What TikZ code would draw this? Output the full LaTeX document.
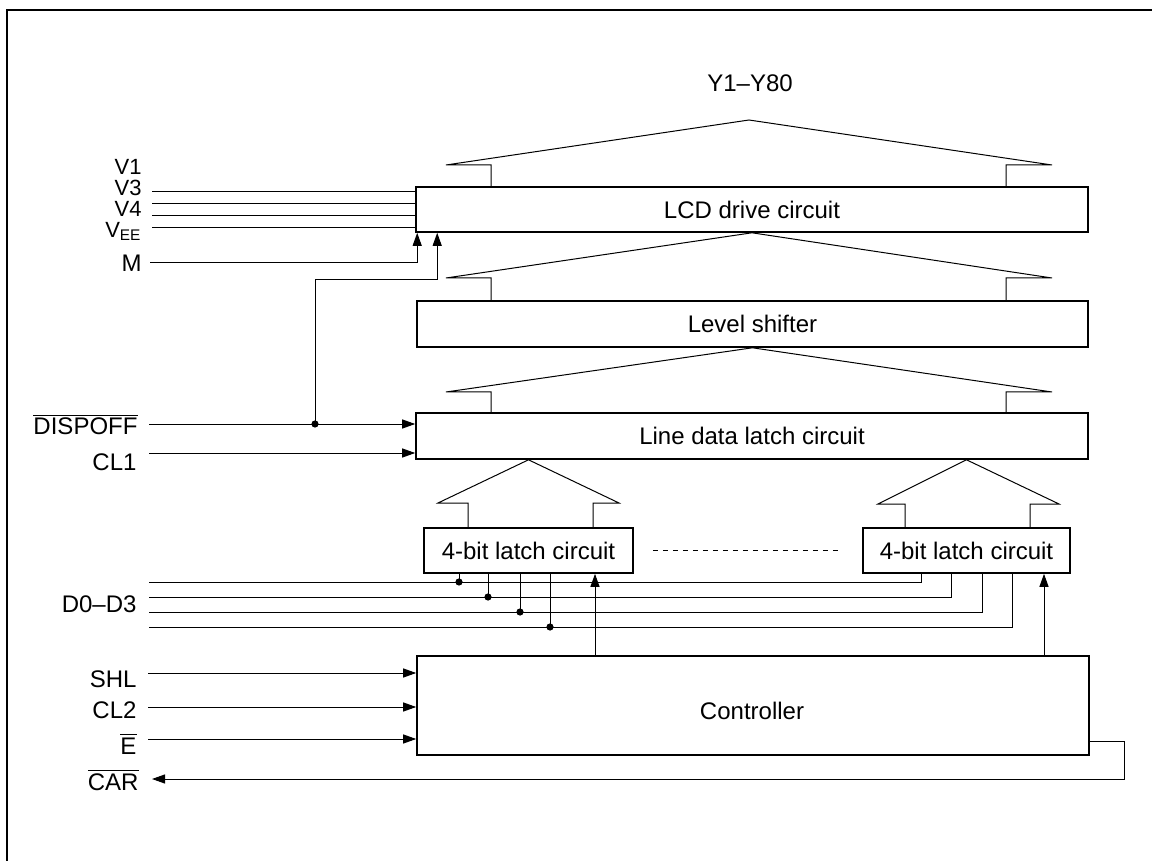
\documentclass[tikz,border=0pt]{standalone}
\usepackage{fontspec}
\setmainfont{Liberation Sans}
\usetikzlibrary{arrows.meta}

\tikzset{
  block/.style={draw, line width=0.8pt, inner sep=0pt, align=center},
  sig/.style={anchor=base east, inner sep=0pt},
  supply/.style={sig, font=\fontsize{11}{12}\selectfont},
  arr/.style={-{Triangle[length=6.5pt,width=4.5pt]}},
  dot/.style={circle, fill, inner sep=0pt, minimum size=3.6pt},
}
\newcommand{\negsig}[1]{\ensuremath{\overline{\mbox{#1}}}}

\begin{document}
\begin{tikzpicture}[x=0.5pt, y=-0.5pt, line width=0.5pt, font=\fontsize{12}{14}\selectfont]
                \useasboundingbox (0,0) rectangle (1152,861);
                % Frame
                \draw[line width=0.9pt] (1152,10) -- (7,10) -- (7,861);
                
                % Blocks
                \node[block, minimum width=336pt, minimum height=22.5pt] (lcd) at (752,209.5) {LCD drive circuit};
                \node[block, minimum width=335.5pt, minimum height=23pt] (lvl) at (752.5,324) {Level shifter};
                \node[block, minimum width=336pt, minimum height=23pt] (ldl) at (752,436) {Line data latch circuit};
                \node[block, minimum width=104.5pt, minimum height=22.5pt] (latchL) at (528.5,550.5) {4-bit latch circuit};
                \node[block, minimum width=103.5pt, minimum height=22.5pt] (latchR) at (966.5,550.5) {4-bit latch circuit};
                \node[block, minimum width=336pt, minimum height=49.5pt] (ctrl) at (753,705.5) {};
                \node (ctrltext) at (752,711) {Controller};
                
                % Output label and buses
                \node (yout) at (750,83) {Y1--Y80};
                \coordinate (ytop) at (749,120);
                \draw (491,187) |- (446,165) -- (ytop) -- (1052,165) -| (1006,187);
                \draw (491,301) |- (446,278) -- (lcd.south) -- (1052,278) -| (1006,301);
                \draw (491,413) |- (446,392) -- (lvl.south) -- (1052,392) -| (1006,413);
                \draw (468,528) |- (438,503) -- (latchL.north |- ldl.south) -- (619,503) -| (593,528);
                \draw (905,528) |- (878,504) -- (latchR.north |- ldl.south) -- (1059,504) -| (1030,528);
                \draw[dash pattern=on 2.6pt off 2.4pt] ([xshift=9.5pt]latchL.east) -- ([xshift=-10pt]latchR.west);
                
                % Supply inputs
                \node[supply] (lv1) at (142,175) {V1};
                \node[supply] (lv3) at (142,196) {V3};
                \node[supply] (lv4) at (142,216.5) {V4};
                \node[supply] (lvee) at (142,237.5) {V\textsubscript{EE}};
                \node[sig] (lm) at (142,272) {M};
                \foreach \y/\n in {192/v3, 204/v4, 216/v5, 228/vee} {
                  \coordinate (\n) at (152,\y);
                  \draw (\n) -- (\n -| lcd.west);
                }
                \coordinate (m) at (150,263);
                \draw[arr] (m) -| ([xshift=1pt]lcd.south west);
                
                % Latch inputs
                \node[sig] (ldisp) at (138,435) {\negsig{DISPOFF}};
                \node[sig] (lcl1) at (137,470.5) {CL1};
                \coordinate (dispoff) at (149,424);
                \coordinate (cl1) at (149,453);
                \node[dot] (j1) at (315,424) {};
                \draw[arr] (dispoff) -- (dispoff -| ldl.west);
                \draw[arr] (cl1) -- (cl1 -| ldl.west);
                \draw[arr] (j1.center) -- (315,280) -| ([xshift=11pt]lcd.south west);
                
                % Data bus D0-D3
                \node[sig] (ldata) at (137,612) {D0--D3};
                \foreach \i/\y/\xa/\xb in {0/582/459/921, 1/597/488/951, 2/612/520/982, 3/627/550/1012} {
                  \coordinate (d\i) at (149,\y);
                  \coordinate (r\i) at (\xb,573);
                  \node[dot] (k\i) at (\xa,\y) {};
                  \draw (d\i) -| (r\i);
                  \draw (k\i.center) -- (k\i.center |- latchL.south);
                }
                
                % Controller
                \node[sig] (lshl) at (137,687) {SHL};
                \node[sig] (lcl2) at (137,718) {CL2};
                \node[sig] (le) at (137,754) {\negsig{E}};
                \node[sig] (lcar) at (139,790) {\negsig{CAR}};
                \foreach \y/\n in {673/shl, 707/cl2, 739/en} {
                  \coordinate (\n) at (148,\y);
                  \draw[arr] (\n) -- (\n -| ctrl.west);
                }
                \coordinate (c1) at (595,656);
                \coordinate (c2) at (1044,656);
                \draw[arr] (c1) -- (c1 |- latchL.south);
                \draw[arr] (c2) -- (c2 |- latchR.south);
                \coordinate (carout) at (ctrl.east |- 0,741);
                \coordinate (car) at (152,779);
                \draw[arr] (carout) -- (1124,741) |- (car);
                
            \end{tikzpicture}
\end{document}
